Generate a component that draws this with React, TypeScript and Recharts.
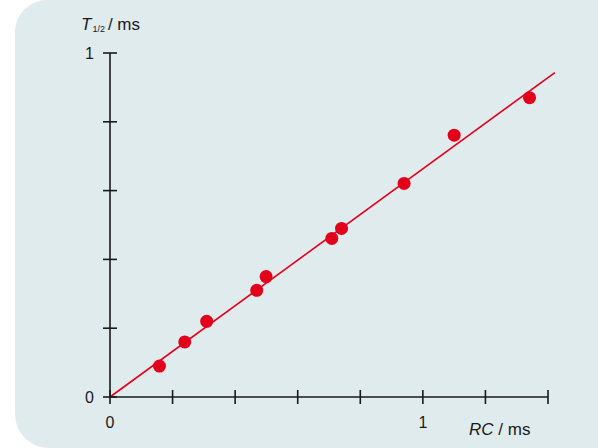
import { ScatterChart, Scatter, XAxis, YAxis, ReferenceLine } from "recharts";

// measured points, RC in ms vs T1/2 in ms
const rcValues = [0.158, 0.239, 0.309, 0.469, 0.499, 0.709, 0.74, 0.94, 1.1, 1.341];
const halfTimes = [0.09, 0.16, 0.22, 0.31, 0.35, 0.461, 0.49, 0.621, 0.761, 0.87];

// fitted line through the origin
const fitX = [0, 1.422];
const fitY = [0, 0.943];

const xTicks = [0, 0.2, 0.4, 0.6, 0.8, 1, 1.2, 1.4];
const yTicks = [0, 0.2, 0.4, 0.6, 0.8, 1];
const labeledTicks = [0, 1];

const points = rcValues.map((x, i) => ({ x, y: halfTimes[i] }));

const FONT = '"Liberation Sans", Arial, sans-serif';
const INK = "#1a1a1a";
const RED = "#e2001a";

const XTick = ({ x, y, payload }: any) => (
  <g>
    <line x1={x} x2={x} y1={y - 7} y2={y + 7} stroke={INK} strokeWidth={1.6} />
    {labeledTicks.includes(payload.value) && (
      <text x={x} y={y + 31} textAnchor="middle" fontSize={16} fontFamily={FONT} fill={INK}>
        {payload.value}
      </text>
    )}
  </g>
);

const YTick = ({ x, y, payload }: any) => (
  <g>
    <line x1={x - 7} x2={x + 7} y1={y} y2={y} stroke={INK} strokeWidth={1.6} />
    {labeledTicks.includes(payload.value) && (
      <text x={x - 16} y={y + 5.5} textAnchor="end" fontSize={16} fontFamily={FONT} fill={INK}>
        {payload.value}
      </text>
    )}
  </g>
);

const Dot = (props: any) => <circle cx={props.cx} cy={props.cy} r={6.5} fill={RED} />;

export default function App() {
  return (
    <div style={{ position: "absolute", left: 0, top: 0, width: 598, height: 448, background: "#fff" }}>
      <div
        style={{
          position: "absolute",
          left: 15,
          top: 0,
          width: 583,
          height: 448,
          background: "#e0ebee",
          borderTopLeftRadius: 32,
          borderBottomLeftRadius: 34,
        }}
      />
      <div style={{ position: "absolute", left: 0, top: 0 }}>
        <ScatterChart width={598} height={448} margin={{ top: 53, right: 50, bottom: 41, left: 100 }}>
          <XAxis
            type="number"
            dataKey="x"
            domain={[0, 1.4]}
            ticks={xTicks}
            height={10}
            tickSize={0}
            tickMargin={0}
            tickLine={false}
            axisLine={{ stroke: INK, strokeWidth: 1.6 }}
            tick={<XTick />}
            interval={0}
          />
          <YAxis
            type="number"
            dataKey="y"
            domain={[0, 1]}
            ticks={yTicks}
            width={10}
            tickSize={0}
            tickMargin={0}
            tickLine={false}
            axisLine={{ stroke: INK, strokeWidth: 1.6 }}
            tick={<YTick />}
            interval={0}
          />
          <ReferenceLine
            segment={[
              { x: fitX[0], y: fitY[0] },
              { x: fitX[1], y: fitY[1] },
            ]}
            stroke={RED}
            strokeWidth={1.6}
            ifOverflow="visible"
          />
          <Scatter data={points} shape={<Dot />} isAnimationActive={false} />
        </ScatterChart>
      </div>
      <svg width={598} height={448} style={{ position: "absolute", left: 0, top: 0, pointerEvents: "none" }}>
        <text x={81} y={29.5} fontSize={17} fontFamily={FONT} fill={INK}>
          <tspan fontStyle="italic">T</tspan>
          <tspan fontSize={9} dy={2} dx={1}>1/2</tspan>
          <tspan dy={-2} dx={3}>/ ms</tspan>
        </text>
        <text x={469} y={435} fontSize={17} fontFamily={FONT} fill={INK}>
          <tspan fontStyle="italic">RC</tspan>
          <tspan> / ms</tspan>
        </text>
      </svg>
    </div>
  );
}
